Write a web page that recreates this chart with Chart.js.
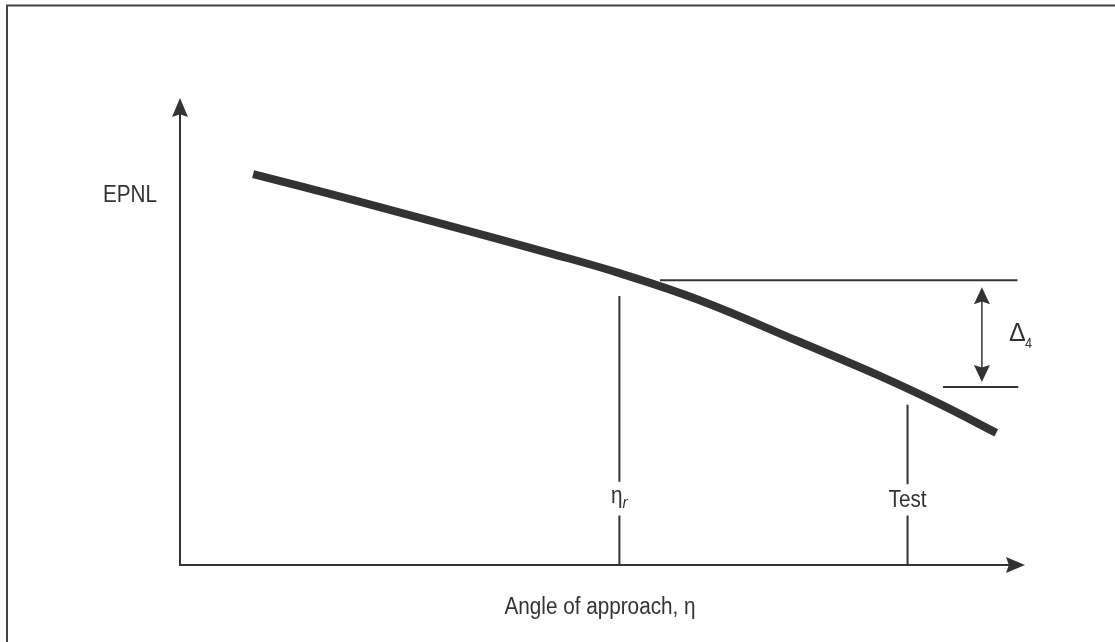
<!DOCTYPE html>
<html>
<head>
<meta charset="utf-8">
<title>EPNL vs angle of approach</title>
<script src="https://cdn.jsdelivr.net/npm/chart.js@4.4.1/dist/chart.umd.min.js"></script>
<style>
    html, body { margin: 0; padding: 0; background: #ffffff; }
    canvas { display: block; }
</style>
</head>
<body>
<canvas id="grafico" width="1115" height="642"></canvas>
<script>
// datos (unidades arbitrarias 0-100 en ambos ejes)
var curvaX = [8.65, 20.0, 31.9, 43.7, 52.0, 61.5, 73.3, 82.8, 89.9, 96.6];
var curvaY = [83.7, 78.4, 72.6, 66.8, 62.5, 56.7, 47.8, 40.5, 34.5, 28.3];

// lineas verticales: eta_r y Test
var etaRX = 52.0;
var etaRTramos = [57.6, 17.8, 10.6, 0];
var testX = 86.1;
var testTramos = [34.3, 17.3, 10.6, 0];

// lineas horizontales del Delta
var refAltoY = 61.0;
var refAltoX = [56.8, 99.1];
var refBajoY = 38.1;
var refBajoX = [90.3, 99.2];
var deltaX = 94.9;

var etiquetas = {
    ejeY: "EPNL",
    ejeX: "Angle of approach, \u03b7",
    etaR: "\u03b7",
    etaRSub: "r",
    test: "Test",
    delta: "\u0394",
    deltaSub: "4"
};

var COLOR = "#333333";
var FUENTE = "'Liberation Sans', Arial, sans-serif";

function puntos(xs, ys) {
    return xs.map(function (x, i) { return { x: x, y: ys[i] }; });
}

function tramosVerticales(x, t) {
    return [{ x: x, y: t[0] }, { x: x, y: t[1] }, { x: x, y: null }, { x: x, y: t[2] }, { x: x, y: t[3] }];
}

function flecha(ctx, x, y, dx, dy, largo, ancho) {
    // punta en (x,y), direccion (dx,dy)
    var px = -dy, py = dx;
    ctx.beginPath();
    ctx.moveTo(x, y);
    ctx.lineTo(x - dx * largo + px * ancho, y - dy * largo + py * ancho);
    ctx.lineTo(x - dx * largo * 0.85, y - dy * largo * 0.85);
    ctx.lineTo(x - dx * largo - px * ancho, y - dy * largo - py * ancho);
    ctx.closePath();
    ctx.fill();
}

// texto estrecho (imita Arial Narrow)
function texto(ctx, t, x, y, fuente, alinear, escala) {
    ctx.save();
    ctx.font = fuente;
    ctx.textAlign = alinear || "center";
    ctx.translate(x, y);
    ctx.scale(escala || 0.9, 1);
    ctx.fillText(t, 0, 0);
    ctx.restore();
}

var dibujo = {
    id: "dibujo",
    afterDraw: function (chart) {
        var ctx = chart.ctx;
        var area = chart.chartArea;
        var sx = chart.scales.x, sy = chart.scales.y;
        ctx.save();

        // marco
        ctx.strokeStyle = "#444444";
        ctx.lineWidth = 2;
        ctx.beginPath();
        ctx.moveTo(7, 700);
        ctx.lineTo(7, 5.5);
        ctx.lineTo(1200, 5.5);
        ctx.stroke();

        // ejes
        ctx.strokeStyle = COLOR;
        ctx.fillStyle = COLOR;
        ctx.lineWidth = 2;
        ctx.beginPath();
        ctx.moveTo(area.left, area.top + 10);
        ctx.lineTo(area.left, area.bottom);
        ctx.lineTo(area.right - 10, area.bottom);
        ctx.stroke();
        flecha(ctx, area.left, area.top, 0, -1, 19, 8);
        flecha(ctx, area.right, area.bottom, 1, 0, 19, 8);

        // doble flecha Delta
        var dx = sx.getPixelForValue(deltaX);
        var yA = sy.getPixelForValue(refAltoY) + 7;
        var yB = sy.getPixelForValue(refBajoY) - 5;
        ctx.lineWidth = 1.5;
        ctx.beginPath();
        ctx.moveTo(dx, yA + 10);
        ctx.lineTo(dx, yB - 10);
        ctx.stroke();
        flecha(ctx, dx, yA, 0, -1, 17, 8);
        flecha(ctx, dx, yB, 0, 1, 17, 8);

        // textos
        ctx.textBaseline = "alphabetic";
        var f = "23px " + FUENTE;
        texto(ctx, etiquetas.ejeY, 130, 202, f);
        texto(ctx, etiquetas.ejeX, 600, 614, f);
        texto(ctx, etiquetas.test, sx.getPixelForValue(testX), 507, f);

        var ex = sx.getPixelForValue(etaRX);
        texto(ctx, etiquetas.etaR, ex + 3, 503, f, "right");
        texto(ctx, etiquetas.etaRSub, ex + 3, 508, "italic 17px " + FUENTE, "left");

        texto(ctx, etiquetas.delta, 1009, 341, "25px " + FUENTE, "left", 1);
        texto(ctx, etiquetas.deltaSub, 1025, 348, "14px " + FUENTE, "left");

        ctx.restore();
    }
};

function cargaGrafico() {
    var lineaFina = {
        borderColor: COLOR,
        borderWidth: 2,
        pointRadius: 0,
        tension: 0,
        spanGaps: false
    };
    new Chart(document.getElementById("grafico"), {
        type: "line",
        data: {
            datasets: [
                {
                    label: "EPNL",
                    data: puntos(curvaX, curvaY),
                    borderColor: COLOR,
                    borderWidth: 8,
                    borderCapStyle: "butt",
                    pointRadius: 0,
                    tension: 0.4
                },
                Object.assign({ label: "eta_r", data: tramosVerticales(etaRX, etaRTramos) }, lineaFina),
                Object.assign({ label: "test", data: tramosVerticales(testX, testTramos) }, lineaFina),
                Object.assign({ label: "alto", data: puntos(refAltoX, [refAltoY, refAltoY]) }, lineaFina),
                Object.assign({ label: "bajo", data: puntos(refBajoX, [refBajoY, refBajoY]) }, lineaFina)
            ]
        },
        options: {
            responsive: false,
            animation: false,
            layout: { padding: { left: 180, top: 98, right: 90, bottom: 77 } },
            scales: {
                x: { type: "linear", min: 0, max: 100, display: false },
                y: { type: "linear", min: 0, max: 100, display: false }
            },
            plugins: {
                legend: { display: false },
                tooltip: { enabled: false }
            }
        },
        plugins: [dibujo]
    });
}

cargaGrafico();
</script>
</body>
</html>
